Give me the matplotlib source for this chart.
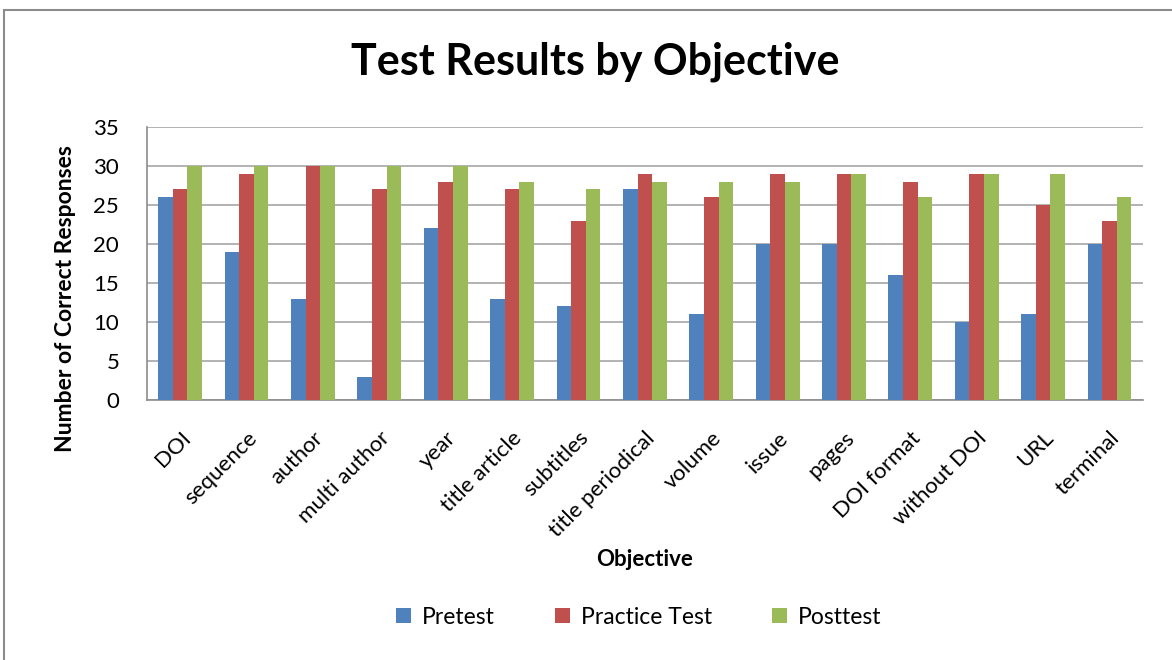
import numpy as np
import matplotlib
matplotlib.use('Agg')
import matplotlib.pyplot as plt
from matplotlib.patches import Rectangle

plt.rcParams['font.family'] = ['Lato', 'DejaVu Sans']

objectives = ['DOI', 'sequence', 'author', 'multi author', 'year', 'title article',
              'subtitles', 'title periodical', 'volume', 'issue', 'pages',
              'DOI format', 'without DOI', 'URL', 'terminal']
pretest = [26, 19, 13, 3, 22, 13, 12, 27, 11, 20, 20, 16, 10, 11, 20]
practice = [27, 29, 30, 27, 28, 27, 23, 29, 26, 29, 29, 28, 29, 25, 23]
posttest = [30, 30, 30, 30, 30, 28, 27, 28, 28, 28, 29, 26, 29, 29, 26]

series = [('Pretest', pretest, '#4f81bd'),
          ('Practice Test', practice, '#c0504d'),
          ('Posttest', posttest, '#9bbb59')]

fig = plt.figure(figsize=(11.72, 6.6), dpi=100)
ax = fig.add_axes([0.1254, 0.394, 0.8496, 0.4136])

# chart border
fig.patches.append(Rectangle((4 / 1172, -0.01), 1.02, 1 - 10 / 660 + 0.01,
                             transform=fig.transFigure, fill=False,
                             edgecolor='#8c8c8c', linewidth=1.5))

x = np.arange(len(objectives))
w = 0.22
for i, (name, vals, col) in enumerate(series):
    ax.bar(x + (i - 1) * w, vals, w, color=col, label=name, zorder=3)

ax.set_xlim(-0.5, len(objectives) - 0.5)
ax.set_ylim(0, 35)
ax.set_yticks(range(0, 36, 5))
ax.grid(axis='y', color='#a6a6a6', linewidth=1.2, zorder=0)
ax.set_xticks(x)
ax.set_xticklabels(objectives, rotation=45, ha='right', rotation_mode='anchor',
                   fontsize=16)
ax.tick_params(axis='x', length=0, pad=20)
ax.tick_params(axis='y', labelsize=16, length=0, pad=20)
for s in ['top', 'right']:
    ax.spines[s].set_visible(False)
for s in ['left', 'bottom']:
    ax.spines[s].set_color('#8c8c8c')
    ax.spines[s].set_linewidth(1.2)

ax.set_xlabel('Objective', fontsize=16, fontweight='bold', labelpad=6)
ax.set_ylabel('Number of Correct Responses', fontsize=16.5, fontweight='bold')
ax.yaxis.set_label_coords(-0.071, 0.37)
fig.text(0.508, 0.906, 'Test Results by Objective', ha='center', va='center',
         fontsize=31, fontweight='bold')

fig.legend(loc='center', bbox_to_anchor=(0.545, 0.065), ncol=3, frameon=False,
           fontsize=16.5, handlelength=0.65, handleheight=0.65, columnspacing=2.6,
           handletextpad=0.5)

fig.savefig('out.png', dpi=100)
